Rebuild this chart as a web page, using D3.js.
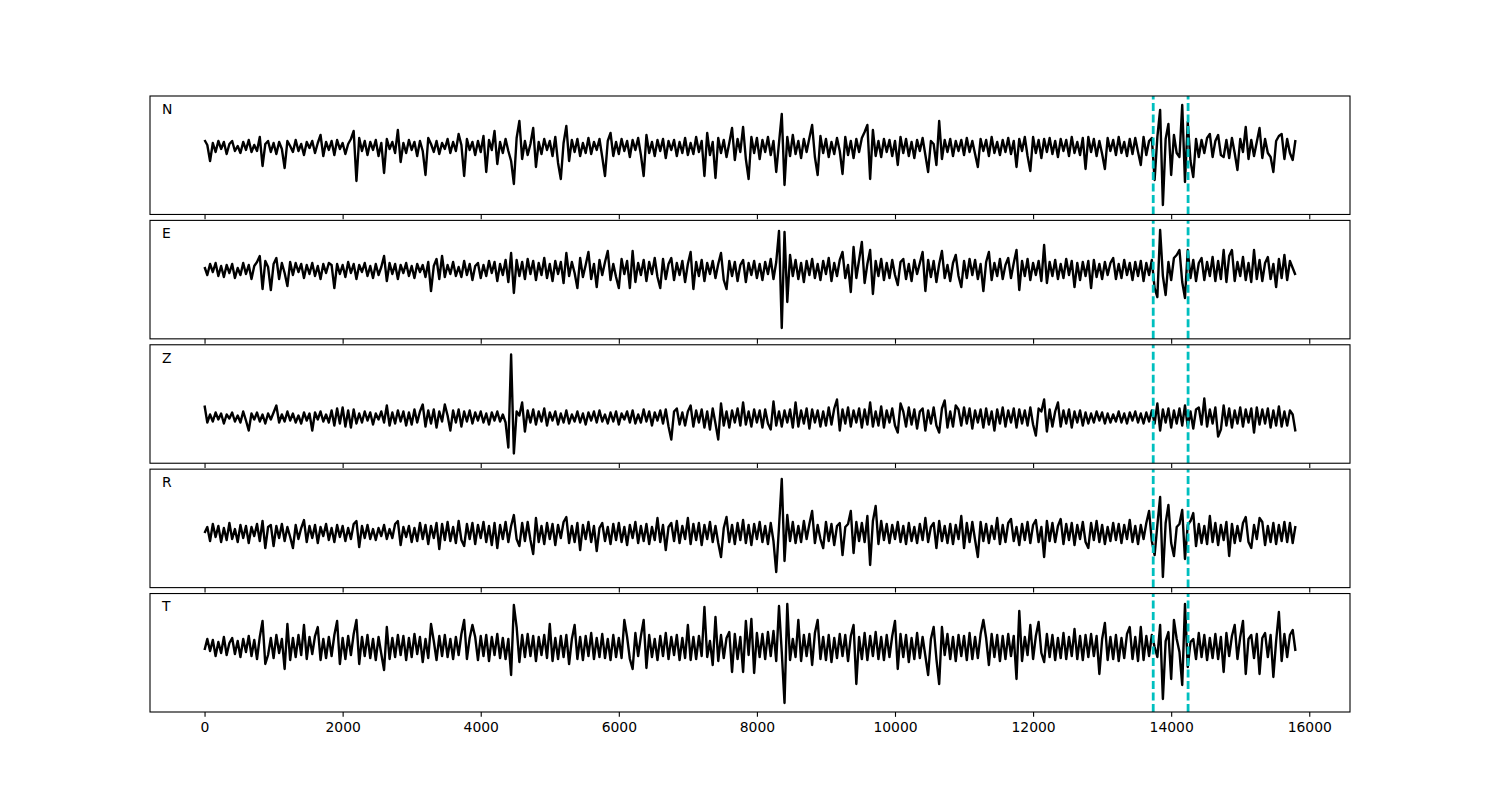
<!DOCTYPE html>
<html>
<head>
<meta charset="utf-8">
<script src="https://cdn.jsdelivr.net/npm/d3@7/dist/d3.min.js"></script>
<style>
  body { margin: 0; background: #fff; }
</style>
</head>
<body>
<script>
// channel names, one trace each; samples every `step` units starting at 0
var channels = ['N', 'E', 'Z', 'R', 'T'];
var step = 40;

var traceN = [
  7, 2, -14, 4, -5, 6, -2, 5, -7, 3,
  6, -4, 1, -6, 5, -3, 7, -5, 2, -4,
  10, -19, 3, 6, -5, 4, -7, 5, -2, -21,
  6, 1, -5, 7, -4, 3, -8, 5, -1, 6,
  -6, 4, 12, -9, 5, -3, 6, -8, 7, -2,
  4, -7, 3, 8, 16, -34, 9, -4, 6, -8,
  5, -3, 7, -9, 4, -26, 8, -2, 5, -6,
  17, -15, 4, -6, 7, -3, 5, -9, 6, -4,
  -28, 9, 3, -5, 6, -7, 4, -2, 8, -6,
  5, -4, 13, 2, -29, 8, -3, 5, -8, 6,
  -5, 11, -25, 7, -3, 16, -17, 5, -6, 8,
  -4, -14, -37, 9, 26, -12, 6, -8, 3, 19,
  -20, 5, -7, 8, -3, 6, -9, 10, -16, -32,
  4, 21, -14, 7, -5, 8, -9, 4, -6, 9,
  -7, 5, -3, 8, -10, -29, 6, 14, -9, 5,
  -7, 8, -4, 6, -10, 7, -3, 9, -8, -29,
  12, -6, 5, -9, 7, -4, 8, -11, 6, -3,
  7, -9, 5, -6, 9, -8, 4, -7, 10, -5,
  6, -29, 14, -8, 5, -31, 9, -6, 7, -10,
  4, 19, -13, 8, -5, 20, -12, -32, 10, -6,
  9, -12, 7, -5, 10, -8, 6, -25, 4, 33,
  -38, 10, -9, 12, -7, 6, -11, 8, -5, 9,
  22, -10, -28, 11, -6, 8, -10, 5, -7, 9,
  -4, -27, 10, -8, 6, -11, 8, -5, 9, 15,
  22, -32, 17, -9, 6, -10, 8, -5, 7, -9,
  6, -18, 10, -6, 8, -9, 5, -11, 7, -4,
  9, -8, -25, 6, 3, -18, 26, -12, 7, -5,
  8, -9, 6, -4, 7, -8, 9, -5, 6, -7,
  -20, 8, -4, 7, -9, 10, -6, 5, -8, 7,
  -5, 9, -7, 6, -20, 8, -4, 10, -9, -24,
  10, -6, 7, -11, 8, -5, 9, -7, 6, -10,
  8, -4, 7, -9, 10, -6, 5, -8, 9, -22,
  10, -5, 8, -9, 6, -7, -22, 9, -4, 7,
  -8, 10, -6, 5, -9, 8, -7, 9, -5, -18,
  10, -8, 6, 9, -33, 10, 37, -58, 8, 23,
  -28, 12, -6, -10, 42, -35, 25, -14, -30, 8,
  -10, 7, -6, 9, 13, -10, 6, 12, -8, -10,
  7, -11, 9, -6, -23, 8, -5, 20, -12, 7,
  -9, 5, 19, -11, 8, -6, -10, -25, 6, 11,
  13, -12, 8, -6, -13, 7
];

var traceE = [
  3, -5, 6, -2, 7, -6, 4, -7, 5, -3,
  6, -8, 2, -5, 7, -4, 5, -9, 4, 8,
  14, -19, 9, 3, -20, 6, 12, -9, 7, -3,
  -16, 8, -5, 7, -2, 6, -8, 5, -4, 7,
  -6, 4, -9, 6, -3, 7, 5, -18, 6, -4,
  5, -7, 8, -3, 6, -9, 5, -2, 7, -6,
  4, -8, 6, -5, 3, 14, -11, 7, -4, 6,
  -9, 5, -3, 7, -6, 4, -8, 6, -2, 5,
  -7, 8, -21, 4, 11, -9, 14, -7, 5, -4,
  8, -6, 3, -7, 9, -5, 6, -10, 4, 7,
  -8, 5, -6, 9, -3, 8, -11, 6, -5, 10,
  -12, 17, -23, 10, -6, 8, -9, 11, -4, 9,
  -10, 7, -5, 12, -8, 6, -11, 9, -4, 8,
  -13, 17, -6, 8, -3, -18, 12, -7, 5, 18,
  -9, 6, -17, 10, -5, 8, 19, -10, 6, -7,
  -18, 11, -4, 9, -18, 19, -12, 7, -5, 10,
  -11, 8, -4, 12, -7, -18, 11, -9, 6, 12,
  -10, 7, -5, 9, -12, 6, 18, -19, 8, -6,
  10, -11, 7, -4, 9, -8, 6, 17, -10, -19,
  9, -6, 8, -11, 5, 10, -12, 7, -5, 9,
  -8, 6, -10, 8, -4, 11, -9, 8, 39, -58,
  38, -32, 15, -6, 10, -9, 7, -12, 9, -5,
  11, -8, 6, -10, 9, -4, 12, -11, 7, -6,
  10, 18, -8, 5, -22, 23, -8, 10, 28, -13,
  6, 20, -24, 9, -6, 11, -10, 7, -8, 10,
  -5, -15, 8, 11, -9, 6, -11, 10, -4, 7,
  18, -21, 10, -7, 9, -12, 6, 19, -8, 5,
  -11, 7, 15, -6, -17, 9, -8, 11, -5, 10,
  -9, 6, -21, 8, 18, -10, 7, -6, 11, -9,
  5, 12, -8, 7, 20, -20, 9, -6, 11, -10,
  7, -5, 9, -11, 25, -13, 8, -6, 10, -9,
  6, -8, 11, -5, 9, -17, 7, -10, 8, -6,
  9, -18, 10, -7, 6, -9, 8, -5, 7, 12,
  -9, 6, -8, 10, -5, 7, -10, 8, -6, 9,
  -11, 7, -5, 10, -18, -27, 40, -6, -25, 8,
  -10, 12, 15, 20, -12, -28, 20, -8, 10, -11,
  7, 12, -10, 8, -6, 13, -11, 9, -9, 20,
  -12, 14, 20, -11, 8, -6, 13, -10, 7, -12,
  20, -9, 10, -11, 7, 13, -9, 6, -17, 11,
  -8, 15, -10, 9, 2, -5
];

var traceZ = [
  12, -5, 3, -4, 5, -2, 4, -6, 3, -1,
  5, -4, 2, -5, 6, -3, -13, 4, -2, 5,
  -4, 3, -6, 4, -2, 5, 12, -5, 3, -4,
  6, -3, 4, -5, 2, -6, 5, -3, 4, -13,
  5, -2, 6, -4, 3, -5, 7, -8, 9, -6,
  10, -9, 7, -10, 8, -6, 4, -5, 6, -3,
  5, -7, 4, -2, 6, -5, 12, -8, 5, -6,
  7, -4, 6, -8, 5, -7, 8, -5, 6, 13,
  -9, 7, -6, 8, -10, 6, -4, 13, 2, -13,
  7, -5, 8, -9, 6, -4, 7, -6, 5, -3,
  6, -5, 4, -7, 5, -3, 6, -4, 3, -5,
  -30, 63, -36, 6, 2, 15, -14, 7, -5, 8,
  -7, 6, -4, 9, -8, 5, -3, 6, -7, 4,
  -5, 7, -6, 3, -4, 6, -5, 4, -7, 5,
  -3, 6, -5, 7, -4, 3, -6, 5, -4, 6,
  -7, 4, -2, 6, -5, 7, -6, 3, -5, 8,
  -4, 6, -8, 5, -3, 7, -6, 8, -9, -22,
  6, 9, -7, 5, -8, 6, 12, -9, 7, -5,
  8, -10, 6, -12, 9, -6, -22, 14, -8, 6,
  -10, 7, -5, 9, -8, 15, -7, 6, -9, 8,
  -5, 7, -10, 8, -6, -12, 16, -8, 6, -9,
  7, -5, 8, -10, 15, -9, 7, -6, 9, -11,
  8, -5, 7, -9, 6, -8, 10, -7, 9, 18,
  -13, 8, -6, 10, -9, 7, -5, 9, -10, 8,
  -7, 15, -9, 6, -8, 11, -10, 7, -5, 9,
  -8, -15, 14, 6, -9, 10, -7, 8, -11, 6,
  9, -13, 7, -6, 10, -8, -15, 9, 17, -10,
  6, -9, 12, 8, -8, 10, -6, 9, -11, 7,
  -5, 8, -10, 9, -7, 6, -13, 8, -6, 10,
  -9, 7, -5, 9, -10, 8, -6, 7, -8, 10,
  -7, -18, 9, 6, 18, -14, 8, -9, 6, 15,
  -9, 7, -6, 8, -10, 6, -5, 7, -8, 5,
  -6, 4, -5, 6, -3, 5, -6, 4, -5, 3,
  -4, 6, -5, 4, -6, 5, -3, 6, -5, 4,
  -6, 5, -4, 7, -6, 14, -13, 8, -5, 9,
  -10, 7, -6, 9, -8, 12, -9, 6, -11, 8,
  10, -7, 19, -9, 8, -6, 10, -19, -12, 12,
  -8, 9, -10, 7, -6, 10, -9, 8, -5, 9,
  -15, 10, -7, 8, -6, 9, -10, 7, -8, 11,
  -9, 6, -8, 7, 3, -14
];

var traceR = [
  0, 6, -8, 9, -4, 7, -9, 5, -7, 10,
  -6, 4, -9, 8, -5, 7, -10, 6, -3, 9,
  -8, 12, -15, 6, 8, -13, 7, -5, 9, -8,
  6, -4, -15, 8, -6, 5, 13, -9, 7, -5,
  8, -10, 6, -3, 9, -7, 5, -9, 8, -4,
  7, -8, 5, -6, 9, 12, -14, 7, -5, 8,
  -6, 4, -7, 5, -3, 8, -6, 4, -5, 9,
  12, -12, 6, -4, 7, -9, 5, -8, 10, -6,
  8, -11, 7, -5, 10, -16, 9, -7, 11, -8,
  6, -10, 12, -7, -13, 9, -6, 10, -11, 8,
  -5, 11, -9, 7, -12, 10, -15, 8, -6, 11,
  -9, 7, 18, -6, -13, 10, -8, 11, -7, -21,
  15, -9, 7, -11, 10, -6, 9, -12, 8, -5,
  11, 16, -10, 7, -9, 10, -17, 8, -6, 11,
  -9, 7, -18, 5, 10, -8, 6, -11, 9, -7,
  10, -9, 6, -12, 8, -5, 11, -10, 7, -8,
  9, -11, 6, -7, 15, -9, 8, -17, 6, 10,
  -8, 12, -10, 7, -6, 15, -11, 9, -7, 10,
  -12, 8, -6, 11, -9, 7, -10, -24, 5, 16,
  -9, 8, -11, 10, -7, 13, -10, 8, -12, 9,
  -6, 11, -9, 7, -11, 10, -8, -39, 6, 54,
  -28, 18, -8, 11, -10, 7, -9, 12, -6, 9,
  22, -10, 8, -6, -15, 11, -8, 9, -12, 7,
  10, -22, 6, 9, 22, -20, 11, -8, 10, -9,
  17, -32, 12, 27, -11, 12, -7, 9, -10, 8,
  -6, 11, -9, 7, -11, 10, -8, 6, -10, 9,
  -7, 15, -9, 6, 10, -15, 12, -8, 7, -10,
  9, -11, 8, -6, 17, -15, 10, -9, 11, -7,
  -24, 11, -8, 9, -10, 7, -6, 15, -11, 8,
  -9, 10, 14, -8, 6, -12, 9, -7, 11, -10,
  8, 13, -9, 6, -24, 12, -8, 10, -9, 7,
  14, -11, 9, -7, 10, -12, 8, -6, 11, -9,
  -15, 10, -7, 12, -9, 8, -11, 6, -8, 10,
  -7, 9, -10, 8, -6, 13, -9, 7, -11, 8,
  -6, 10, 22, -8, -22, 8, 36, -44, 10, 28,
  -10, -23, 6, 9, 23, -26, 8, 12, 20, -13,
  9, -10, 7, -11, 17, -9, 10, -12, 8, -7,
  11, -23, 9, -10, 7, -8, 10, 16, -9, -15,
  8, -6, 15, 11, -12, 7, -9, 10, -11, 8,
  -8, 11, -9, 10, -10, 7
];

var traceT = [
  -3, 8, -4, 7, -9, 5, -6, 10, -8, 4,
  9, -7, 6, -10, 8, -5, 11, -9, 7, -12,
  10, 26, -17, -8, 9, -11, 12, -6, 8, -22,
  23, -13, 9, -10, 12, -8, 22, -12, 10, -7,
  11, 20, -13, 8, -11, 10, -9, 12, 26, -17,
  9, -12, 11, -8, 13, 27, -17, 10, -9, 12,
  -11, 8, -13, 10, -7, -23, 20, -12, 9, -10,
  12, -8, 11, -13, 9, -10, 13, -7, 10, -15,
  8, -11, 23, 6, -13, 11, -9, 12, -10, 8,
  -12, 10, -8, 13, 27, -12, 9, 22, 10, -13,
  11, -9, 12, -14, 10, -8, 13, -11, 9, -12,
  8, -28, 42, 20, -15, 12, -10, 13, -9, 11,
  -14, 10, -8, 12, -11, 23, -14, 9, -12, 11,
  -10, 12, -17, 8, 22, -12, 10, -13, 11, -9,
  14, -12, 9, -10, 13, -11, 8, -13, 12, -10,
  9, -11, 27, 10, -12, -22, 14, -9, 11, 27,
  -21, 12, -10, 8, -13, 11, -9, 14, -12, 10,
  -8, 12, -13, 9, -11, 22, -13, 10, -12, 11,
  -9, 40, -10, 6, -18, 30, -14, 12, -11, 9,
  15, -25, 13, -12, 10, -25, 26, -8, 28, -26,
  14, -10, 13, -12, 15, -9, 16, -14, 41, -5,
  -56, 43, -13, 8, -10, 27, -14, 12, -9, 13,
  -18, 14, 27, -12, 10, -13, 12, -15, 9, -11,
  13, -9, 12, -14, 11, 22, -37, 10, -12, 14,
  -13, 11, -9, 15, -12, 10, -13, 12, -10, 11,
  26, -22, 13, -10, 12, -15, 9, -12, 14, -11,
  10, -9, -28, 8, 20, -12, -37, 20, -8, 13,
  -12, 10, -14, 12, -9, 11, -13, 14, -12, 10,
  -11, 13, 27, 9, -18, 13, -10, 12, -14, 11,
  -12, 13, -9, 11, -32, 36, -14, 10, -8, 22,
  -12, 11, 25, -6, -15, 13, -10, 12, -13, 9,
  -11, 14, -12, 10, -9, 18, -12, 11, -13, 12,
  -10, 13, -9, 11, -27, 8, 24, -13, 10, -12,
  12, -14, 9, -11, 13, 20, -12, 10, -14, 20,
  -13, 11, -9, 12, 0, -10, 22, -52, 6, 15,
  -32, 27, 8, -5, -38, 43, -20, 5, 8, -12,
  14, -10, 12, -13, 9, -11, 13, -12, 10, -25,
  14, -9, 11, 22, -12, 10, 26, -27, 8, 12,
  -11, 13, -27, 9, 14, -10, 12, -30, 6, 35,
  -14, 13, -10, 12, 17, -4
];

var traces = [traceN, traceE, traceZ, traceR, traceT];

// y limits of each panel (same amplitude units as the traces)
var yLimits = [[-67.5, 51], [-68.8, 49.6], [-45.7, 72.7], [-54.6, 63.9], [-65, 53.5]];

// picked times, drawn as dashed vertical lines in every panel
var picks = [13740, 14245];

var xTicks = [0, 2000, 4000, 6000, 8000, 10000, 12000, 14000, 16000];

var w = 1500, h = 800;
var margin = {left: 150, right: 150, top: 96, bottom: 88};
var hspace = 0.05;
var n = channels.length;
var plotW = w - margin.left - margin.right;
var plotH = h - margin.top - margin.bottom;
var panelH = plotH / (n + (n - 1) * hspace);
var gap = panelH * hspace;
var fontPx = 13.9;

var svg = d3.select('body')
  .append('svg')
  .attr('width', w)
  .attr('height', h)
  .style('font-family', '"DejaVu Sans", sans-serif');

svg.append('rect')
  .attr('width', w)
  .attr('height', h)
  .attr('fill', 'white');

// x range padded by 5% like matplotlib's autoscale
var xMax = (traceN.length - 1) * step;
var pad = 0.05 * xMax;
var xScale = d3.scaleLinear()
  .domain([-pad, xMax + pad])
  .range([margin.left, w - margin.right]);

channels.forEach((name, k) => {
  var top = margin.top + k * (panelH + gap);
  var bottom = top + panelH;

  var yScale = d3.scaleLinear()
    .domain(yLimits[k])
    .range([bottom, top]);

  var g = svg.append('g').attr('class', 'panel');

  var line = d3.line()
    .x((d, i) => xScale(i * step))
    .y(d => yScale(d));

  g.append('path')
    .datum(traces[k])
    .attr('d', line)
    .attr('fill', 'none')
    .attr('stroke', 'black')
    .attr('stroke-width', 2.4)
    .attr('stroke-linejoin', 'round');

  // picks
  g.selectAll('line.pick')
    .data(picks)
    .enter()
    .append('line')
      .attr('class', 'pick')
      .attr('x1', d => xScale(d))
      .attr('x2', d => xScale(d))
      .attr('y1', bottom)
      .attr('y2', top)
      .attr('stroke', '#00bfbf')
      .attr('stroke-width', 2.8)
      .attr('stroke-dasharray', '8,3.5');

  var xAxis = d3.axisBottom(xScale)
    .tickValues(xTicks)
    .tickSizeInner(4.86)
    .tickSizeOuter(0)
    .tickPadding(4.86)
    .tickFormat(k === n - 1 ? d3.format('d') : () => '');

  var ax = g.append('g')
    .attr('transform', `translate(0,${bottom})`)
    .call(xAxis);
  ax.select('.domain').remove();
  ax.selectAll('.tick line').attr('stroke', 'black').attr('stroke-width', 1.1);
  ax.selectAll('.tick text')
    .attr('fill', 'black')
    .style('font-family', '"DejaVu Sans", sans-serif')
    .style('font-size', fontPx + 'px');

  // frame
  g.append('rect')
    .attr('x', margin.left)
    .attr('y', top)
    .attr('width', plotW)
    .attr('height', panelH)
    .attr('fill', 'none')
    .attr('stroke', 'black')
    .attr('stroke-width', 1.1);

  g.append('text')
    .attr('x', margin.left + 0.01 * plotW)
    .attr('y', top + 0.15 * panelH)
    .style('font-size', fontPx + 'px')
    .attr('fill', 'black')
    .text(name);
});
</script>
</body>
</html>
